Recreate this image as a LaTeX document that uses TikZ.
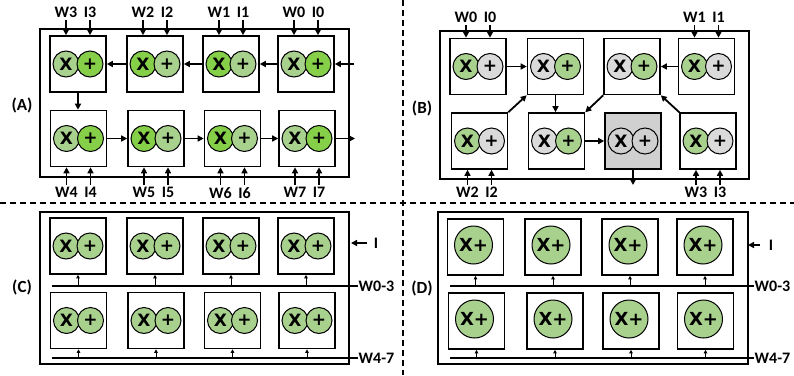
\documentclass[tikz,border=0pt]{standalone}
\usepackage{fontspec}
\usepackage{graphicx}
\setmainfont{Carlito}
\newfontfamily\symfont{DejaVu Sans}
\usetikzlibrary{arrows.meta,calc}
\definecolor{lgreen}{HTML}{A9D18E}
\definecolor{bgreen}{HTML}{86CF48}
\definecolor{lgray}{HTML}{DADADA}
\definecolor{boxgray}{HTML}{D0D0D0}
\tikzset{
 pebox/.style={draw, line width=1.6pt, minimum width=56pt, minimum height=56pt, inner sep=0pt, fill=white},
 cir/.style={circle, draw, line width=1pt, minimum size=26pt, inner sep=0pt, font=\symfont\fontsize{17}{17}\selectfont\bfseries},
 bigcir/.style={circle, draw, line width=1pt, minimum size=38pt, inner sep=0pt, font=\symfont\fontsize{18}{18}\selectfont\bfseries},
 frame/.style={draw, line width=1.8pt, inner sep=0pt},
 lbl/.style={font=\fontsize{16}{16}\selectfont\bfseries, inner sep=2pt},
 qlbl/.style={font=\fontsize{17}{17}\selectfont\bfseries, inner sep=1pt},
 arr/.style={line width=1.8pt, -{Triangle[length=6pt,width=6pt]}},
 sarr/.style={line width=1pt, -{Triangle[length=3.5pt,width=3.5pt]}},
 bus/.style={line width=2pt},
 divider/.style={line width=1.2pt, dash pattern=on 6pt off 4pt}
}
\newcommand\mkpe[6]{%
 \node[pebox, fill=#6] (#1) at (#2,#3) {};
 \node[cir, fill=#4] (#1x) at (#2-12,#3) {X};
 \node[cir, fill=#5] (#1p) at (#2+12,#3) {+};
}
\newcommand\mkped[3]{%
 \node[pebox] (#1) at (#2,#3) {};
 \node[bigcir, fill=lgreen] (#1c) at (#2-2,#3-2) {X+};
}
\begin{document}
\begin{tikzpicture}[x=1pt,y=-1pt]
\useasboundingbox (0,0) rectangle (794,375);
% dividers
\coordinate (vtop) at (403,0); \coordinate (vbot) at (403,375);
\coordinate (hl) at (0,203); \coordinate (hr) at (794,203);
\draw[divider] (vtop) -- (vbot);
\draw[divider] (hl) -- (hr);

% ================= (A) =================
\node[qlbl] (qa) at (22,105) {(A)};
\node[frame, minimum width=309pt, minimum height=148pt] (afr) at (194.5,103) {};
\mkpe{a3}{78}{64}{lgreen}{bgreen}{white}
\mkpe{a2}{155}{64}{bgreen}{lgreen}{white}
\mkpe{a1}{231}{64}{bgreen}{lgreen}{white}
\mkpe{a0}{306}{64}{lgreen}{bgreen}{white}
\mkpe{a4}{78.5}{138.5}{lgreen}{bgreen}{white}
\mkpe{a5}{156}{138.5}{bgreen}{lgreen}{white}
\mkpe{a6}{232.5}{138.5}{bgreen}{lgreen}{white}
\mkpe{a7}{307}{138.5}{lgreen}{bgreen}{white}
\draw[arr] (a2.west) -- (a3.east);
\draw[arr] (a1.west) -- (a2.east);
\draw[arr] (a0.west) -- (a1.east);
\draw[arr] (a3.south) -- (a3.south |- a4.north);
\draw[arr] (a4.east) -- (a5.west);
\draw[arr] (a5.east) -- (a6.west);
\draw[arr] (a6.east) -- (a7.west);
\coordinate (ain) at (354,64);
\draw[arr] (ain) -- (a0.east);
\coordinate (aout) at (355,138.5);
\draw[arr] (a7.east) -- (aout);
\coordinate (atop) at (0,20);
\coordinate (abot) at (0,185);
\foreach \p/\w/\i in {a3/W3/I3, a2/W2/I2, a1/W1/I1, a0/W0/I0} {
  \node[lbl, anchor=south] (\p wl) at (\p x |- atop) {\w};
  \node[lbl, anchor=south] (\p il) at (\p p |- atop) {\i};
  \draw[arr] (\p wl.south) -- (\p wl.south |- \p.north);
  \draw[arr] (\p il.south) -- (\p il.south |- \p.north);
}
\foreach \p/\w/\i in {a4/W4/I4, a5/W5/I5, a6/W6/I6, a7/W7/I7} {
  \node[lbl, anchor=north] (\p wl) at (\p x |- abot) {\w};
  \node[lbl, anchor=north] (\p il) at (\p p |- abot) {\i};
  \draw[arr] (\p wl.north) -- (\p wl.north |- \p.south);
  \draw[arr] (\p il.north) -- (\p il.north |- \p.south);
}

% ================= (B) =================
\node[qlbl] (qb) at (422,108) {(B)};
\node[frame, minimum width=309pt, minimum height=148pt] (bfr) at (594.5,105) {};
\mkpe{b1}{478}{66.5}{lgreen}{lgray}{white}
\mkpe{b2}{555.5}{66.5}{lgray}{lgreen}{white}
\mkpe{b3}{632}{66.5}{lgray}{lgreen}{white}
\mkpe{b4}{706.5}{66.5}{lgreen}{lgray}{white}
\mkpe{b5}{479.5}{141}{lgreen}{lgray}{white}
\mkpe{b6}{556.5}{141}{lgray}{lgreen}{white}
\mkpe{b7}{633}{141}{boxgray}{boxgray}{boxgray}
\mkpe{b8}{708}{141}{lgreen}{lgray}{white}
\draw[arr] (b1.east) -- (b2.west);
\draw[arr] (b4.west) -- (b3.east);
\draw[arr] (b2.south) -- (b2.south |- b6.north);
\draw[arr] (b5.north east) -- (b2.south west);
\draw[arr] (b3.south west) -- (b6.north east);
\draw[arr] (b8.north west) -- (b3.south east);
\draw[arr] (b6.east) -- (b7.west);
\coordinate (bout) at (633,185);
\draw[arr] (b7.south) -- (bout);
\coordinate (btop) at (0,25);
\foreach \p/\w/\i in {b1/W0/I0, b4/W1/I1} {
  \node[lbl, anchor=south] (\p wl) at (\p x |- btop) {\w};
  \node[lbl, anchor=south] (\p il) at (\p p |- btop) {\i};
  \draw[arr] (\p wl.south) -- (\p wl.south |- \p.north);
  \draw[arr] (\p il.south) -- (\p il.south |- \p.north);
}
\foreach \p/\w/\i in {b5/W2/I2, b8/W3/I3} {
  \node[lbl, anchor=north] (\p wl) at (\p x |- abot) {\w};
  \node[lbl, anchor=north] (\p il) at (\p p |- abot) {\i};
  \draw[arr] (\p wl.north) -- (\p wl.north |- \p.south);
  \draw[arr] (\p il.north) -- (\p il.north |- \p.south);
}

% ================= (C) =================
\node[qlbl] (qc) at (22,287) {(C)};
\node[frame, minimum width=309pt, minimum height=152pt] (cfr) at (194.5,288) {};
\mkpe{c1}{78}{246}{lgreen}{lgreen}{white}
\mkpe{c2}{155}{246}{lgreen}{lgreen}{white}
\mkpe{c3}{231}{246}{lgreen}{lgreen}{white}
\mkpe{c4}{306}{246}{lgreen}{lgreen}{white}
\mkpe{c5}{78.5}{320.5}{lgreen}{lgreen}{white}
\mkpe{c6}{156}{320.5}{lgreen}{lgreen}{white}
\mkpe{c7}{232.5}{320.5}{lgreen}{lgreen}{white}
\mkpe{c8}{307}{320.5}{lgreen}{lgreen}{white}
\node[lbl, anchor=west, inner sep=0.5pt] (cw03) at (358,286) {W0-3};
\coordinate (cb1) at (52,286);
\draw[bus] (cb1) -- (cw03.west);
\node[lbl, anchor=west, inner sep=0.5pt] (cw47) at (358,358) {W4-7};
\coordinate (cb2) at (52,358);
\draw[bus] (cb2) -- (cw47.west);
\foreach \n in {c1,c2,c3,c4} \draw[sarr] (\n.south |- cb1) -- (\n.south);
\foreach \n in {c5,c6,c7,c8} \draw[sarr] (\n.south |- cb2) -- (\n.south);
\node[lbl, inner xsep=7pt] (ci) at (376,243) {I};
\coordinate (cie) at (351,243);
\draw[arr] (ci.west) -- (cie);

% ================= (D) =================
\node[qlbl] (qd) at (422,288) {(D)};
\node[frame, minimum width=310pt, minimum height=152pt] (dfr) at (593,288) {};
\mkped{d1}{475.5}{247}
\mkped{d2}{553}{247}
\mkped{d3}{630}{247}
\mkped{d4}{705}{247}
\mkped{d5}{476.5}{321}
\mkped{d6}{555}{321}
\mkped{d7}{631}{321}
\mkped{d8}{705.5}{321}
\node[lbl, anchor=west, inner sep=0.5pt] (dw03) at (754,286) {W0-3};
\coordinate (db1) at (450,286);
\draw[bus] (db1) -- (dw03.west);
\node[lbl, anchor=west, inner sep=0.5pt] (dw47) at (754,358) {W4-7};
\coordinate (db2) at (450,358);
\draw[bus] (db2) -- (dw47.west);
\foreach \n in {d1,d2,d3,d4} \draw[sarr] (\n.south |- db1) -- (\n.south);
\foreach \n in {d5,d6,d7,d8} \draw[sarr] (\n.south |- db2) -- (\n.south);
\node[lbl, inner xsep=8.5pt] (di) at (771,245) {I};
\coordinate (die) at (748,245);
\draw[arr] (di.west) -- (die);
\end{tikzpicture}
\end{document}
